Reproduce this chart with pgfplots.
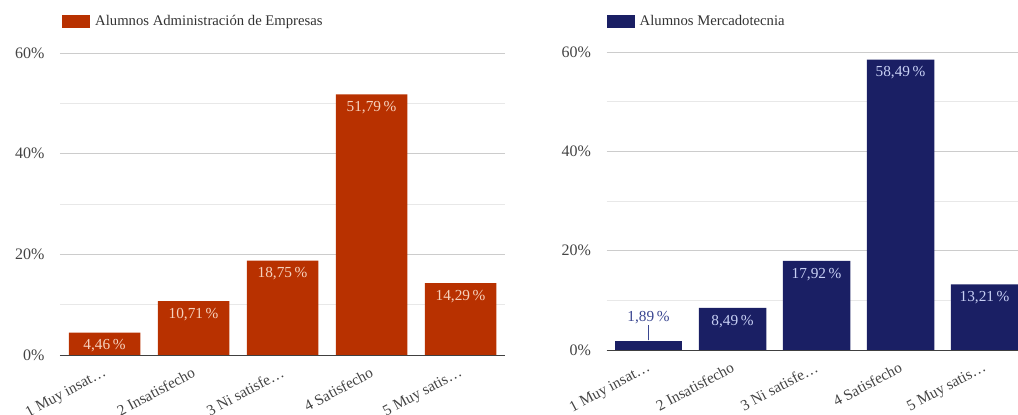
\documentclass[border=0pt]{standalone}
\usepackage{pgfplots}
\pgfplotsset{compat=1.18}
\usepackage{fontspec}
\setmainfont{Liberation Serif}
\definecolor{redbar}{HTML}{B83100}
\definecolor{navybar}{HTML}{1A1F64}
\definecolor{redlab}{HTML}{F6D2BE}
\definecolor{navylab}{HTML}{C8D0F4}
\definecolor{pinlab}{HTML}{3A4690}
\definecolor{ticktxt}{HTML}{444444}
\definecolor{gridmaj}{HTML}{CCCCCC}
\definecolor{gridmin}{HTML}{E8E8E8}
\pgfplotsset{
  mybars/.style={
    scale only axis,
    ybar, bar shift=0pt,
    xmin=-0.5, xmax=4.5,
    ymin=0, ymax=60,
    axis x line=bottom, axis y line=left,
    x axis line style={-, draw=black!75, line width=0.8pt},
    y axis line style={draw=none},
    major tick length=0pt, minor tick length=0pt,
    ytick={0,20,40,60}, yticklabels={0\%,20\%,40\%,60\%},
    minor ytick={10,30,50},
    ymajorgrids, yminorgrids,
    major grid style={gridmaj, line width=0.8pt},
    minor grid style={gridmin, line width=0.8pt},
    xtick={0,1,2,3,4},
    xticklabels={1 Muy insat\ldots, 2 Insatisfecho, 3 Ni satisfe\ldots, 4 Satisfecho, 5 Muy satis\ldots},
    x tick label style={xshift=-2pt, yshift=-10pt, rotate=28, anchor=north east, font=\fontsize{15.3}{17}\selectfont, text=ticktxt, inner sep=1pt},
    y tick label style={font=\fontsize{16}{18}\selectfont, text=ticktxt, xshift=-12pt},
    /pgf/number format/assume math mode=true,
    legend style={draw=none, fill=none, at={(0,1)}, anchor=west, inner sep=0pt,
      font=\fontsize{14.7}{16}\selectfont, text=black!80},
    legend image code/.code={\fill[#1] (0pt,-6.5pt) rectangle (28pt,6.5pt); \path (31pt,0pt);},
    legend cell align=left,
    clip=false,
  },
  vals/.style={
    nodes near coords={\pgfmathprintnumber[fixed, fixed zerofill, precision=2, use comma]{\pgfplotspointmeta}\,\%},
    every node near coord/.append style={anchor=north, inner sep=2pt, yshift=-5pt, text=#1, font=\fontsize{15.3}{17}\selectfont},
  },
}
\begin{document}
\begin{tikzpicture}
\useasboundingbox (0pt,0pt) rectangle (1018pt,415pt);
\begin{axis}[mybars, at={(60pt,60pt)}, anchor=south west, width=445pt, height=302pt,
  legend style={yshift=31.5pt, xshift=2pt}]
\addplot[fill=redbar, draw=none, bar width=71.5pt, vals=redlab] coordinates {(0,4.46) (1,10.71) (2,18.75) (3,51.79) (4,14.29)};
\addlegendentry{Alumnos Administración de Empresas}
\end{axis}
\begin{axis}[mybars, at={(606.5pt,65pt)}, anchor=south west, width=420pt, height=298pt,
  legend style={yshift=31pt, xshift=0pt}]
\addplot[fill=navybar, draw=none, bar width=67.5pt, vals=navylab] coordinates {(1,8.49) (2,17.92) (3,58.49) (4,13.21)};
\addlegendentry{Alumnos Mercadotecnia}
\addplot[fill=navybar, draw=none, bar width=67.5pt, forget plot,
  nodes near coords={},
  every node near coord/.append style={anchor=center, inner sep=0pt, minimum size=0pt,
    pin={[pin distance=15pt, pin edge={pinlab, line width=0.6pt}, text=pinlab, inner sep=1pt, font=\fontsize{15.3}{17}\selectfont]90:{1,89\,\%}}}]
  coordinates {(0,1.89)};
\end{axis}
\end{tikzpicture}
\end{document}
